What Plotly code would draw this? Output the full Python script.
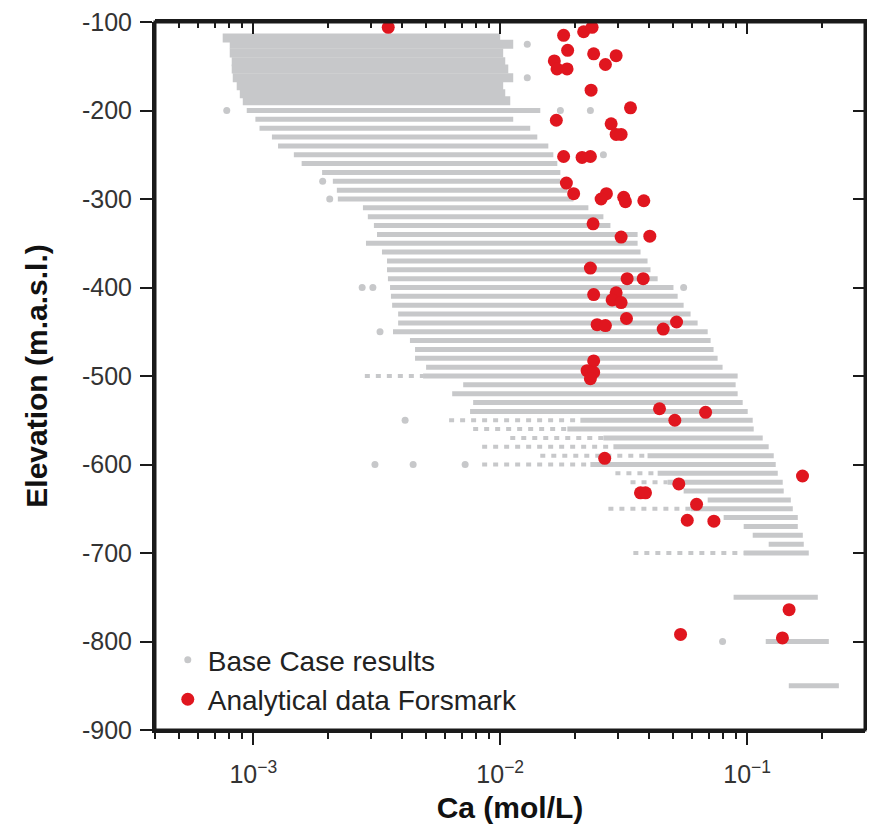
import plotly.graph_objects as go

# ---------------- data ----------------
# Base Case results: horizontal bands of model results at each elevation
# upper, densely packed rows
top_elev = [-118, -125, -135, -145, -153, -163, -172, -181, -189]
top_lo = [7.52e-4, 8.03e-4, 8.03e-4, 8.18e-4, 8.18e-4, 8.26e-4, 8.57e-4, 8.82e-4, 9.07e-4]
top_hi = [1.000e-2, 1.129e-2, 1.028e-2, 1.048e-2, 1.078e-2, 1.129e-2, 1.028e-2, 1.048e-2, 1.098e-2]

# regular rows (solid part of each band)
row_elev = [-200, -210, -220, -230, -240, -250, -260, -270, -280, -290,
            -300, -310, -320, -330, -340, -350, -360, -370, -380, -390,
            -400, -410, -420, -430, -440, -450, -460, -470, -480, -490,
            -500, -510, -520, -530, -540, -550, -560, -570, -580, -590,
            -600, -610, -620, -630, -640, -650, -660, -670, -680, -690,
            -700, -750, -800, -850]
row_lo = [9.41e-4, 1.02e-3, 1.06e-3, 1.19e-3, 1.26e-3, 1.46e-3, 1.57e-3, 1.90e-3, 2.10e-3, 2.18e-3,
          2.20e-3, 2.78e-3, 2.91e-3, 3.08e-3, 3.17e-3, 2.86e-3, 3.32e-3, 3.48e-3, 3.48e-3, 3.51e-3,
          3.58e-3, 3.61e-3, 3.65e-3, 3.86e-3, 3.86e-3, 3.68e-3, 4.31e-3, 4.52e-3, 4.52e-3, 5.01e-3,
          4.87e-3, 7.08e-3, 6.39e-3, 7.77e-3, 7.55e-3, 2.111e-2, 1.870e-2, 2.617e-2, 2.873e-2, 3.95e-2,
          2.318e-2, 4.34e-2, 4.76e-2, 5.53e-2, 6.92e-2, 5.90e-2, 8.03e-2, 9.68e-2, 0.1053, 0.1222,
          9.68e-2, 8.81e-2, 0.1189, 0.1474]
row_hi = [1.453e-2, 1.129e-2, 1.323e-2, 1.413e-2, 1.566e-2, 1.641e-2, 1.703e-2, 1.752e-2, 1.752e-2, 1.870e-2,
          1.978e-2, 2.275e-2, 2.617e-2, 2.794e-2, 3.60e-2, 3.60e-2, 3.70e-2, 3.95e-2, 4.06e-2, 4.34e-2,
          5.03e-2, 5.23e-2, 5.53e-2, 5.90e-2, 6.30e-2, 6.92e-2, 7.11e-2, 7.31e-2, 7.59e-2, 7.95e-2,
          9.15e-2, 8.98e-2, 9.15e-2, 9.59e-2, 0.1005, 0.1053, 0.1063, 0.1156, 0.1222, 0.1281,
          0.1305, 0.1330, 0.1393, 0.1406, 0.1502, 0.1530, 0.1603, 0.1603, 0.1680, 0.1695,
          0.1776, 0.1932, 0.2141, 0.2351]

# sparse (broken) parts of some bands, left of the solid part
sparse_elev = [-500, -550, -560, -570, -580, -590, -600, -610, -620, -650, -700]
sparse_lo = [2.83e-3, 6.21e-3, 7.77e-3, 1.098e-2, 8.45e-3, 1.453e-2, 8.45e-3, 2.927e-2, 3.37e-2, 2.742e-2, 3.46e-2]
sparse_hi = [4.87e-3, 2.111e-2, 1.870e-2, 2.617e-2, 2.873e-2, 3.95e-2, 2.318e-2, 4.34e-2, 4.76e-2, 5.90e-2, 9.68e-2]

# isolated Base Case points
iso_ca = [7.81e-4, 2.04e-3, 1.91e-3, 1.287e-2, 1.287e-2, 1.752e-2, 2.318e-2, 2.617e-2,
          5.53e-2, 2.76e-3, 3.05e-3, 3.26e-3, 4.12e-3, 3.11e-3, 4.44e-3, 7.21e-3, 7.95e-2]
iso_elev = [-200, -300, -280, -125, -163, -200, -200, -250,
            -400, -400, -400, -450, -550, -600, -600, -600, -800]

# Analytical data Forsmark
obs_ca = [3.52e-3, 0.01806, 0.02177, 0.02355, 0.01875, 0.02390, 0.02947, 0.02667, 0.01656, 0.01698,
          0.01865, 0.02333, 0.03369, 0.01687, 0.02813, 0.02947, 0.03087, 0.01806, 0.02145, 0.02318,
          0.01853, 0.01983, 0.02692, 0.02562, 0.03163, 0.03214, 0.03814, 0.02377, 0.03087, 0.04034,
          0.02318, 0.03266, 0.03793, 0.02390, 0.02947, 0.02839, 0.03087, 0.03245, 0.05176, 0.02468,
          0.02667, 0.04571, 0.02390, 0.02247, 0.02390, 0.02318, 0.04416, 0.06786, 0.05094, 0.02649,
          0.1675, 0.05288, 0.03698, 0.03875, 0.06238, 0.05720, 0.07332, 0.1478, 0.05373, 0.1389]
obs_elev = [-106, -115, -111, -106, -132, -136, -138, -148, -144, -153,
            -153, -177, -197, -211, -215, -227, -227, -252, -253, -252,
            -282, -294, -294, -300, -298, -303, -302, -328, -343, -342,
            -378, -390, -390, -408, -406, -414, -417, -435, -439, -442,
            -443, -447, -483, -494, -496, -503, -537, -541, -550, -593,
            -613, -622, -632, -632, -645, -663, -664, -764, -792, -796]

x_tick_vals = [1e-3, 1e-2, 1e-1]
x_tick_text = ["10<sup>\u22123</sup>", "10<sup>\u22122</sup>", "10<sup>\u22121</sup>"]
y_tick_vals = [-900, -800, -700, -600, -500, -400, -300, -200, -100]
y_tick_text = ["-900", "-800", "-700", "-600", "-500", "-400", "-300", "-200", "-100"]

GRAY = "#c7c8ca"
RED = "#e0161f"
AXC = "#1a1a1a"
FONT = "Liberation Sans, Arial, sans-serif"


def segments(elev, lo, hi):
    xs, ys = [], []
    for e, a, b in zip(elev, lo, hi):
        xs += [a, b, None]
        ys += [e, e, None]
    return xs, ys


fig = go.Figure()

tx, ty = segments(top_elev, top_lo, top_hi)
fig.add_trace(go.Scatter(x=tx, y=ty, mode="lines", line=dict(color=GRAY, width=9),
                         showlegend=False, hoverinfo="skip", legendgroup="base"))
rx, ry = segments(row_elev, row_lo, row_hi)
fig.add_trace(go.Scatter(x=rx, y=ry, mode="lines", line=dict(color=GRAY, width=5),
                         showlegend=False, hoverinfo="skip", legendgroup="base"))
sx, sy = segments(sparse_elev, sparse_lo, sparse_hi)
fig.add_trace(go.Scatter(x=sx, y=sy, mode="lines", line=dict(color=GRAY, width=4, dash="5px,6px"),
                         showlegend=False, hoverinfo="skip", legendgroup="base"))
fig.add_trace(go.Scatter(x=iso_ca, y=iso_elev, mode="markers", name="Base Case results",
                         marker=dict(color=GRAY, size=7), legendgroup="base"))
fig.add_trace(go.Scatter(x=obs_ca, y=obs_elev, mode="markers", name="Analytical data Forsmark",
                         xaxis="x2", yaxis="y2",
                         marker=dict(color=RED, size=13, line=dict(width=0))))

minor_vals = [m * 10.0 ** p for p in (-4, -3, -2, -1) for m in range(2, 10)
              if 4e-4 <= m * 10.0 ** p <= 0.3]

xrange_ = [-3.3979, -0.5229]
common_x = dict(type="log", range=xrange_, domain=[0, 1], showgrid=False, zeroline=False,
                showline=True, linewidth=3, linecolor=AXC, tickwidth=2, tickcolor=AXC,
                tickvals=x_tick_vals, automargin=False, ticklen=12)
common_y = dict(range=[-900, -100], domain=[0, 1], showgrid=False, zeroline=False, showline=True,
                linewidth=3, linecolor=AXC, ticklen=12, tickwidth=2, tickcolor=AXC,
                tickvals=y_tick_vals, automargin=False)

fig.update_layout(
    width=867, height=819,
    margin=dict(l=147, r=10, t=14, b=97),
    paper_bgcolor="white", plot_bgcolor="rgba(0,0,0,0)",
    font=dict(family=FONT, color="#222"),
    xaxis=dict(**common_x, anchor="y", side="bottom", ticks="outside",
               ticktext=x_tick_text, tickfont=dict(size=25, color="#333"), ticklabelstandoff=8,
               minor=dict(ticks="outside", ticklen=6, tickwidth=1.5, tickcolor=AXC,
                          tickvals=minor_vals, showgrid=False),
               title=dict(text="<b>Ca (mol/L)</b>", font=dict(size=30, color="#111"), standoff=10)),
    xaxis2=dict(**common_x, anchor="y2", side="top", ticks="inside", showticklabels=False,
                minor=dict(ticks="inside", ticklen=6, tickwidth=1.5, tickcolor=AXC,
                           tickvals=minor_vals, showgrid=False)),
    yaxis=dict(**common_y, anchor="x", side="left", ticks="outside",
               ticktext=y_tick_text, tickfont=dict(size=25, color="#333"), ticklabelstandoff=3,
               ticklabeloverflow="allow",
               title=dict(text="<b>Elevation (m.a.s.l.)</b>", font=dict(size=30, color="#111"),
                          standoff=26)),
    yaxis2=dict(**common_y, anchor="x2", side="right", ticks="inside", showticklabels=False),
    legend=dict(x=0.018, y=0.134, xanchor="left", yanchor="top", bgcolor="rgba(0,0,0,0)",
                font=dict(size=28, color="#222"), tracegroupgap=0, itemwidth=30),
    showlegend=True,
    # plot frame
    shapes=[dict(type="rect", xref="paper", yref="paper", x0=0, x1=1, y0=0, y1=1,
                 line=dict(color=AXC, width=3), fillcolor="rgba(0,0,0,0)", layer="above")],
)

fig.write_html("out.html")
